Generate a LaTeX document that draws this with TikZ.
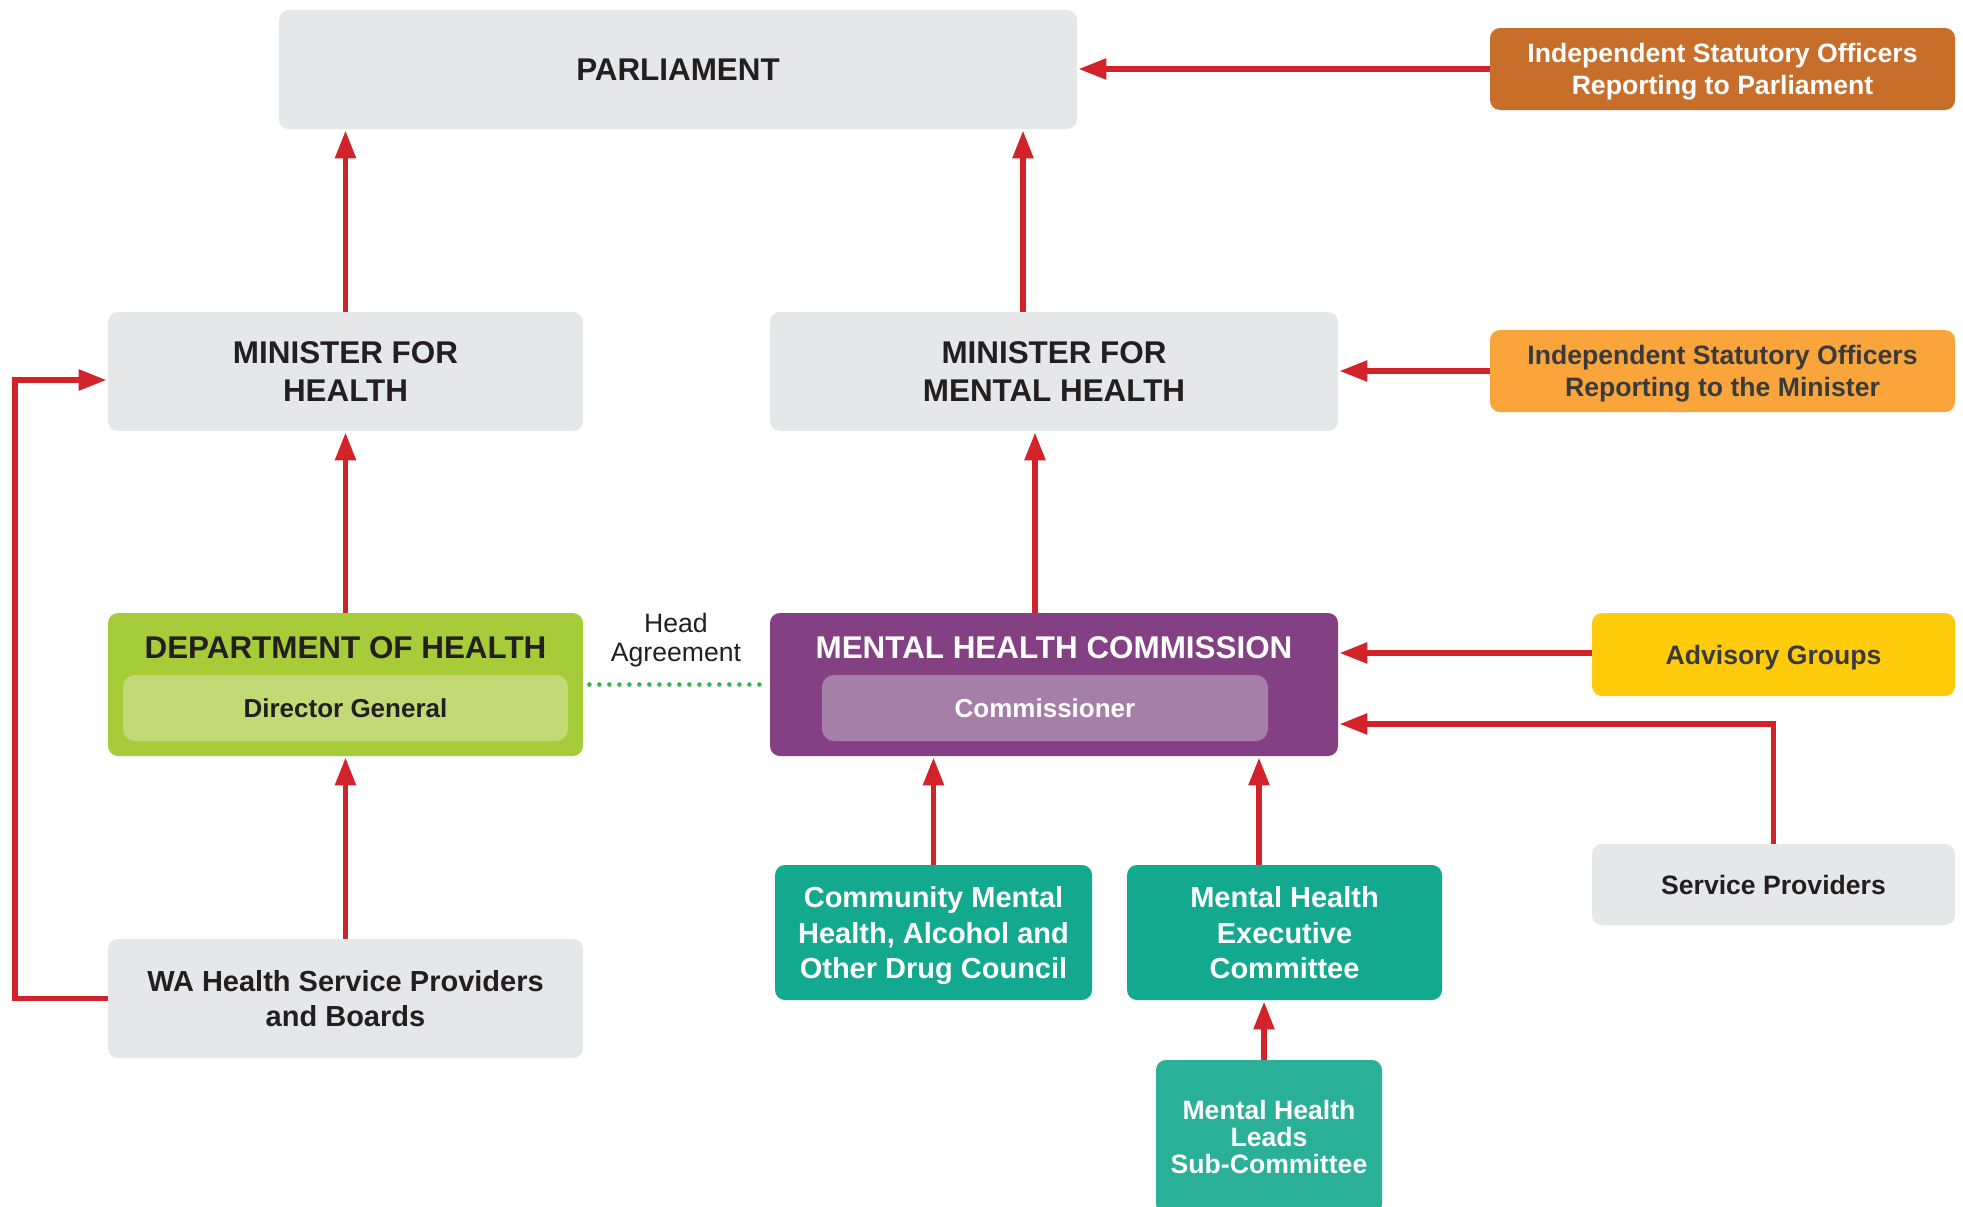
\documentclass[tikz,border=0pt]{standalone}
\usepackage{fontspec}
\setmainfont{Liberation Sans}
\usetikzlibrary{arrows.meta}
\definecolor{boxgrey}{HTML}{E6E7E8}
\definecolor{textdark}{HTML}{231F20}
\definecolor{arrred}{HTML}{D2232A}
\definecolor{orangeD}{HTML}{C86E2B}
\definecolor{orangeL}{HTML}{F9A53B}
\definecolor{yellowA}{HTML}{FFCB0B}
\definecolor{dohgreen}{HTML}{A6CD39}
\definecolor{dohinner}{HTML}{C2DA76}
\definecolor{purpleM}{HTML}{834083}
\definecolor{purpleI}{HTML}{A67FA8}
\definecolor{tealA}{HTML}{13A98F}
\definecolor{tealB}{HTML}{2AB097}
\definecolor{dotgreen}{HTML}{3BB54A}
\definecolor{greytext}{HTML}{3A3A3A}
\newcommand{\hdrfont}{\fontsize{15.7}{18.8}\selectfont\bfseries}
\newcommand{\midfont}{\fontsize{14.5}{17.8}\selectfont\bfseries}
\newcommand{\smlfont}{\fontsize{13.3}{16.3}\selectfont\bfseries}
\tikzset{
  box/.style={rounded corners=5pt, align=center, inner sep=0pt, text depth=0pt},
  greybox/.style={box, fill=boxgrey, text=textdark},
  arr/.style={draw=arrred, line width=2.8pt, line join=miter,
    -{Triangle[length=14pt,width=10pt]}, shorten >=0.5pt},
}
\begin{document}
\begin{tikzpicture}[x=0.5pt,y=-0.5pt]
\fill[white] (0,0) rectangle (1963,1206);
\clip (0,0) rectangle (1963,1206);
\useasboundingbox (0,0) rectangle (1963,1206);

% top row
\node[greybox, minimum width=399pt, minimum height=59.5pt, font=\hdrfont] (parl) at (678,69.5) {PARLIAMENT};
\node[box, fill=orangeD, text=white, minimum width=232.5pt, minimum height=41pt, font=\smlfont] (isoP) at (1722.5,69) {Independent Statutory Officers\\Reporting to Parliament};

% ministers
\node[greybox, minimum width=237.5pt, minimum height=59.5pt, font=\hdrfont] (mfh) at (345.5,371.5) {MINISTER FOR\\HEALTH};
\node[greybox, minimum width=284pt, minimum height=59.5pt, font=\hdrfont] (mfmh) at (1054,371.5) {MINISTER FOR\\MENTAL HEALTH};
\node[box, fill=orangeL, text=greytext, minimum width=232.5pt, minimum height=41pt, font=\smlfont] (isoM) at (1722.5,371) {Independent Statutory Officers\\Reporting to the Minister};

% department of health
\node[box, fill=dohgreen, minimum width=237.5pt, minimum height=71.5pt] (doh) at (345.5,684.5) {};
\node[box, rounded corners=6pt, fill=dohinner, text=textdark, minimum width=222.5pt, minimum height=33pt, font=\fontsize{13}{15}\selectfont\bfseries] (dohI) at (345.5,708) {Director General};
\node[text=textdark, font=\hdrfont, inner sep=0pt, text depth=0pt] (dohT) at (345.5,648) {DEPARTMENT OF HEALTH};

% mental health commission
\node[box, fill=purpleM, minimum width=284pt, minimum height=71.5pt] (mhc) at (1054,684.5) {};
\node[box, rounded corners=6pt, fill=purpleI, text=white, minimum width=223pt, minimum height=33pt, font=\fontsize{13}{15}\selectfont\bfseries] (mhcI) at (1045,708) {Commissioner};
\node[text=white, font=\hdrfont, inner sep=0pt, text depth=0pt] (mhcT) at (1054,648) {MENTAL HEALTH COMMISSION};

% head agreement
\node[text=textdark, align=center, inner sep=0pt, font=\fontsize{13.3}{14.4}\selectfont] (ha) at (676,640) {Head\\Agreement};

% right side
\node[box, fill=yellowA, text=greytext, minimum width=181.5pt, minimum height=41.5pt, font=\smlfont] (adv) at (1773.5,654.5) {Advisory Groups};
\node[greybox, minimum width=181.5pt, minimum height=40.5pt, font=\smlfont] (sp) at (1773.5,884.5) {Service Providers};

% lower teal boxes
\node[box, fill=tealA, text=white, minimum width=158.5pt, minimum height=67.5pt, font=\midfont] (cm) at (933.5,932.5) {Community Mental\\Health, Alcohol and\\Other Drug Council};
\node[box, fill=tealA, text=white, minimum width=157.5pt, minimum height=67.5pt, font=\midfont] (mhec) at (1284.5,932.5) {Mental Health\\Executive\\Committee};
\node[box, fill=tealB, text=white, minimum width=113pt, minimum height=77pt, font=\fontsize{13.3}{13.5}\selectfont\bfseries] (mhlsc) at (1269,1137) {Mental Health\\Leads\\Sub-Committee};

% WA health
\node[greybox, minimum width=237.5pt, minimum height=59.5pt, font=\midfont] (wa) at (345.5,998.5) {WA Health Service Providers\\and Boards};

% helper coordinates
\coordinate (xA) at (1023,0);
\coordinate (xB) at (1035,0);
\coordinate (xC) at (1259,0);
\coordinate (xD) at (1264,0);
\coordinate (xH) at (15,0);
\coordinate (yE) at (0,724);
\coordinate (yF) at (0,653);
\coordinate (yG) at (0,380);

% connectors
\draw[arr] (mfh.north) -- (parl.south -| mfh.north);
\draw[arr] (xA |- mfmh.north) -- (xA |- parl.south);
\draw[arr] (isoP.west) -- (isoP.west -| parl.east);
\draw[arr] (isoM.west) -- (isoM.west -| mfmh.east);
\draw[arr] (doh.north) -- (mfh.south);
\draw[arr] (xB |- mhc.north) -- (xB |- mfmh.south);
\draw[arr] (wa.north) -- (doh.south);
\draw[arr] (wa.west) -- (xH |- wa.west) -- (xH |- yG) -- (mfh.west |- yG);
\draw[arr] (adv.west |- yF) -- (mhc.east |- yF);
\draw[arr] (sp.north) -- (sp.north |- yE) -- (mhc.east |- yE);
\draw[arr] (cm.north) -- (cm.north |- mhc.south);
\draw[arr] (xC |- mhec.north) -- (xC |- mhc.south);
\draw[arr] (xD |- mhlsc.north) -- (xD |- mhec.south);
\draw[dotgreen, line width=2.3pt, line cap=round, dash pattern=on 0pt off 5pt, shorten <=3pt, shorten >=2pt] (doh.east) -- (mhc.west);
\end{tikzpicture}
\end{document}
